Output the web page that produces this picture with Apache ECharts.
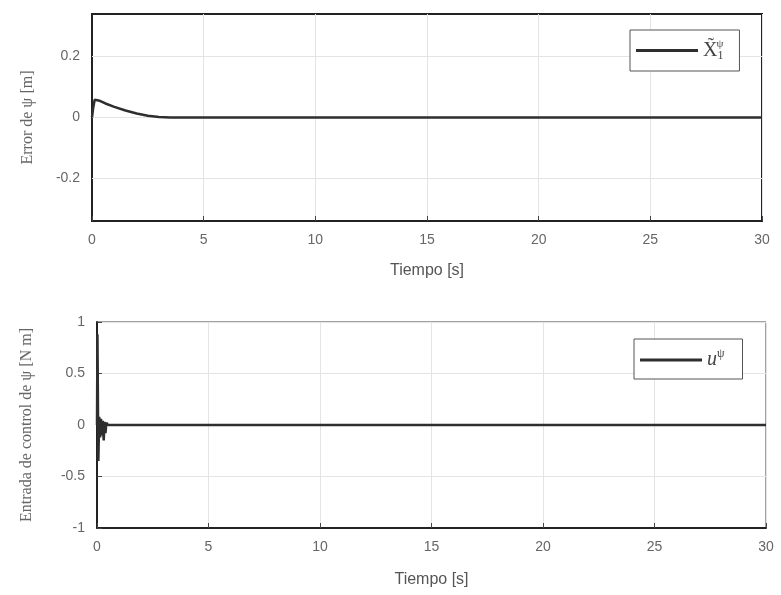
<!DOCTYPE html>
<html>
<head>
<meta charset="utf-8">
<script src="https://cdn.jsdelivr.net/npm/echarts@6/dist/echarts.min.js"></script>
<style>html,body{margin:0;padding:0;background:#fff;}#c{width:781px;height:595px;}</style>
</head>
<body>
<div id="c"></div>
<script>
// Top panel: error of psi
const tTop = [0, 0.05, 0.12, 0.2, 0.35, 0.6, 1.0, 1.5, 2.0, 2.5, 3.0, 3.5, 5, 10, 15, 20, 25, 30];
const errPsi = [0, 0.03, 0.058, 0.062, 0.055, 0.046, 0.035, 0.023, 0.013, 0.006, 0.002, 0, 0, 0, 0, 0, 0, 0];
// Bottom panel: control input of psi
const tBot = [0, 0.02, 0.06, 0.1, 0.14, 0.18, 0.22, 0.26, 0.3, 0.34, 0.38, 0.42, 0.46, 0.5, 0.6, 0.7, 1, 5, 10, 15, 20, 25, 30];
const uPsi = [0, 0.88, -0.35, 0.08, -0.12, 0.06, -0.1, 0.04, -0.15, 0.03, -0.08, 0.02, 0.02, 0.0, 0.0, 0, 0, 0, 0, 0, 0, 0, 0];
const topYTicks = [-0.2, 0, 0.2];

const pairs = (xs, ys) => xs.map((x, i) => [x, ys[i]]);
const lineColor = '#2e2e2e';
const gridColor = '#e4e4e4';
const tickFont = {fontFamily: 'Liberation Sans', fontSize: 14, color: '#666'};
const serif = 'Liberation Serif';

function xAxis(gi) {
  return {
    type: 'value', gridIndex: gi, min: 0, max: 30, interval: 5,
    name: 'Tiempo [s]', nameLocation: 'middle', nameGap: gi === 0 ? 42 : 44,
    nameTextStyle: {fontFamily: 'Liberation Sans', fontSize: 16, color: '#555'},
    axisLine: {onZero: false, lineStyle: {color: '#222', width: 2}},
    axisTick: {inside: true, length: 5, lineStyle: {color: '#444'}},
    axisLabel: Object.assign({margin: 12}, tickFont),
    splitLine: {show: true, lineStyle: {color: gridColor, width: 1}}
  };
}

const option = {
  backgroundColor: '#fff',
  animation: false,
  grid: [
    {left: 92, right: 19, top: 14, height: 207, show: true, borderColor: '#222', borderWidth: 2},
    {left: 97, right: 15, top: 322, height: 206, show: true, borderColor: '#444', borderWidth: 1}
  ],
  xAxis: [xAxis(0), xAxis(1)],
  yAxis: [
    {
      type: 'value', gridIndex: 0, min: -0.34, max: 0.34,
      name: 'Error de ψ [m]', nameLocation: 'middle', nameGap: 56,
      nameTextStyle: {fontFamily: serif, fontSize: 16, color: '#666'},
      axisLine: {onZero: false, lineStyle: {color: '#222', width: 2}},
      axisTick: {inside: true, length: 5, lineStyle: {color: '#444'}, customValues: topYTicks},
      axisLabel: Object.assign({margin: 12, customValues: topYTicks,
        formatter: v => (Math.abs(v) < 1e-9 ? '0' : String(Math.round(v * 10) / 10))}, tickFont),
      splitLine: {show: false}
    },
    {
      type: 'value', gridIndex: 1, min: -1, max: 1, interval: 0.5,
      name: 'Entrada de control de ψ [N m]', nameLocation: 'middle', nameGap: 62,
      nameTextStyle: {fontFamily: serif, fontSize: 16, color: '#666'},
      axisLine: {onZero: false, lineStyle: {color: '#222', width: 2}},
      axisTick: {inside: true, length: 5, lineStyle: {color: '#444'}},
      axisLabel: Object.assign({margin: 12}, tickFont),
      splitLine: {show: true, lineStyle: {color: gridColor, width: 1}}
    }
  ],
  legend: [
    {
      data: ['err'], left: 630, top: 30, orient: 'vertical', icon: 'rect',
      itemWidth: 62, itemHeight: 3, padding: [9, 16, 9, 6],
      borderColor: '#555', borderWidth: 1, backgroundColor: '#fff',
      formatter: () => '{b|X̃}{s|1}{p|ψ}',
      textStyle: {
        rich: {
          b: {fontFamily: serif, fontSize: 20, color: '#444'},
          s: {fontFamily: serif, fontSize: 12, color: '#444', verticalAlign: 'bottom', padding: [8, 0, 0, 0]},
          p: {fontFamily: serif, fontSize: 11, color: '#444', verticalAlign: 'top', padding: [0, 0, 12, -7]}
        }
      }
    },
    {
      data: ['u'], left: 634, top: 339, orient: 'vertical', icon: 'rect',
      itemWidth: 62, itemHeight: 3, padding: [9, 18, 9, 6],
      borderColor: '#555', borderWidth: 1, backgroundColor: '#fff',
      formatter: () => '{b|u}{p|ψ}',
      textStyle: {
        rich: {
          b: {fontFamily: serif, fontSize: 20, color: '#444', fontStyle: 'italic'},
          p: {fontFamily: serif, fontSize: 12, color: '#444', verticalAlign: 'top', padding: [0, 0, 12, 0]}
        }
      }
    }
  ],
  series: [
    {
      name: 'err', type: 'line', xAxisIndex: 0, yAxisIndex: 0,
      data: pairs(tTop, errPsi), showSymbol: false, symbol: 'none',
      lineStyle: {color: lineColor, width: 2.5}, itemStyle: {color: lineColor},
      markLine: {
        silent: true, symbol: 'none', label: {show: false}, z: 1,
        lineStyle: {color: gridColor, width: 1, type: 'solid'},
        data: topYTicks.map(v => ({yAxis: v}))
      }
    },
    {
      name: 'u', type: 'line', xAxisIndex: 1, yAxisIndex: 1,
      data: pairs(tBot, uPsi), showSymbol: false, symbol: 'none',
      lineStyle: {color: lineColor, width: 2.5}, itemStyle: {color: lineColor}
    }
  ]
};

const chart = echarts.init(document.getElementById('c'), null, {renderer: 'canvas'});
chart.setOption(option);
</script>
</body>
</html>
